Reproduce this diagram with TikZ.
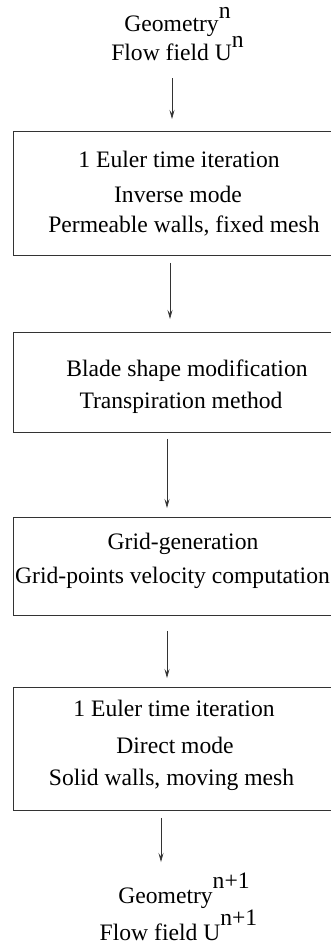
\documentclass[tikz,border=0pt]{standalone}
\usepackage{fontspec}
\setmainfont{Liberation Serif}
\usetikzlibrary{arrows.meta,calc}
\begin{document}
\begin{tikzpicture}[x=1pt,y=-1pt]
\tikzset{
  lbl/.style={anchor=base, inner sep=0pt, font=\fontsize{23.6}{27}\selectfont},
  stepbox/.style={draw=black!80, line width=0.8pt, inner sep=0pt,
    anchor=north west, minimum width=340pt},
  flow/.style={draw=black!80, line width=0.7pt,
    -{Stealth[length=9pt,width=5pt,inset=3.5pt]}}
}
\useasboundingbox (0,0) rectangle (331,945);
\clip (0,0) rectangle (331,945);

% input state
\node[lbl] (g0) at (177.5,31) {Geometry\raisebox{13pt}{n}};
\node[lbl] (u0) at (177.5,60) {Flow field U\raisebox{13pt}{n}};

% process boxes (right side runs off the page)
\node[stepbox, minimum height=124pt] (b1) at (13,131) {};
\node[stepbox, minimum height=100pt] (b2) at (13,332) {};
\node[stepbox, minimum height=98pt]  (b3) at (13,517) {};
\node[stepbox, minimum height=123pt] (b4) at (13,687) {};

% box texts
\node[lbl] (t11) at (179,167) {1 Euler time iteration};
\node[lbl] (t12) at (178,202) {Inverse mode};
\node[lbl] (t13) at (184,232) {Permeable walls, fixed mesh};

\node[lbl] (t21) at (187,376) {Blade shape modification};
\node[lbl] (t22) at (181,408) {Transpiration method};

\node[lbl] (t31) at (183,549) {Grid-generation};
\node[lbl, anchor=base west] (t32) at (15,583) {Grid-points velocity computation};

\node[lbl] (t41) at (174,716) {1 Euler time iteration};
\node[lbl] (t42) at (175,753) {Direct mode};
\node[lbl] (t43) at (171.5,785) {Solid walls, moving mesh};

% output state
\node[lbl] (g1) at (184,903) {Geometry\raisebox{15pt}{n+1}};
\node[lbl] (u1) at (178.5,940) {Flow field U\raisebox{15pt}{n+1}};

% connectors
\draw[flow] ($(u0.base)+(-5.5,18)$) -- ($(b1.north west)+(159,-12)$);
\draw[flow] ($(b1.south west)+(157,7)$) -- ($(b2.north west)+(157,-13)$);
\draw[flow] ($(b2.south west)+(154,6)$) -- ($(b3.north west)+(154,-9)$);
\draw[flow] ($(b3.south west)+(154,15)$) -- ($(b4.north west)+(154,-9)$);
\draw[flow] ($(b4.south west)+(148,7)$) -- ($(g1.base)+(-23,-41)$);
\end{tikzpicture}
\end{document}
